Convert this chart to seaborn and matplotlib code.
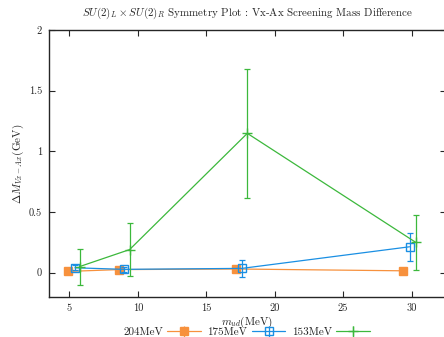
import numpy as np
import pandas as pd
import matplotlib
matplotlib.use("Agg")
import matplotlib.pyplot as plt
import seaborn as sns

# --- data ---
m_204 = [4.9, 8.6, 17.2, 29.4]
d_204 = [0.01, 0.025, 0.03, 0.015]
e_204 = [0.0, 0.0, 0.0, 0.0]

m_175 = [5.4, 9.0, 17.6, 29.85]
d_175 = [0.04, 0.027, 0.035, 0.213]
e_175 = [0.02, 0.02, 0.07, 0.115]

m_153 = [5.75, 9.4, 18.0, 30.3]
d_153 = [0.05, 0.19, 1.148, 0.25]
e_153 = [0.148, 0.22, 0.53, 0.227]

labels = ["204MeV", "175MeV", "153MeV"]
colors = ["#f7913d", "#1a8fe3", "#3cb83c"]

xticks = [5, 10, 15, 20, 25, 30]
yticks = [0, 0.5, 1, 1.5, 2]
ytick_labels = ["0", "0.5", "1", "1.5", "2"]

sns.set_style("ticks")
plt.rcParams["font.family"] = ["cmr10", "DejaVu Serif"]
plt.rcParams["mathtext.fontset"] = "cm"
plt.rcParams["axes.formatter.use_mathtext"] = True

df = pd.concat([
    pd.DataFrame({"m": m_204, "d": d_204, "e": e_204, "set": labels[0]}),
    pd.DataFrame({"m": m_175, "d": d_175, "e": e_175, "set": labels[1]}),
    pd.DataFrame({"m": m_153, "d": d_153, "e": e_153, "set": labels[2]}),
])

fig = plt.figure(figsize=(4.44, 3.37), dpi=100)
ax = fig.add_axes([0.110, 0.119, 0.894, 0.792])

markers = {"204MeV": "s", "175MeV": "s", "153MeV": "+"}
handles = []
for lab, col in zip(labels, colors):
    sub = df[df["set"] == lab]
    mk = markers[lab]
    face = col if lab == "204MeV" else "none"
    ms = 6 if mk == "s" else 7
    sns.lineplot(data=sub, x="m", y="d", ax=ax, color=col, sort=False,
                 linewidth=0.9, marker=mk, markersize=ms,
                 markerfacecolor=face, markeredgecolor=col, markeredgewidth=1.0,
                 legend=False)
    ax.errorbar(sub["m"], sub["d"], yerr=sub["e"], fmt="none", ecolor=col,
                elinewidth=0.9, capsize=2, capthick=0.9)
    handles.append(ax.errorbar([], [], yerr=[], color=col, marker=mk,
                               markersize=ms, markerfacecolor=face,
                               markeredgecolor=col, linewidth=0.9, capsize=2))

ax.set_xlim(3.5, 32.5)
ax.set_ylim(-0.2, 2)
ax.set_xticks(xticks)
ax.set_xticklabels([str(t) for t in xticks])
ax.set_yticks(yticks)
ax.set_yticklabels(ytick_labels)
ax.tick_params(direction="in", length=4, width=0.8, top=True, right=True,
               labelsize=7.5, pad=5)
for s in ax.spines.values():
    s.set_linewidth(1.0)
    s.set_visible(True)

ax.set_xlabel(r"$m_{ud}$(MeV)", fontsize=8, labelpad=1)
ax.set_ylabel(r"$\Delta M_{Vx-Ax}$(GeV)", fontsize=8, labelpad=2)
ax.set_title(r"$SU(2)_L \times SU(2)_R$ Symmetry Plot : Vx-Ax Screening Mass Difference",
             fontsize=7.9, pad=10)

fig.legend(handles, labels, loc="lower center", bbox_to_anchor=(0.555, -0.03),
           ncol=3, frameon=False, markerfirst=False, fontsize=8,
           handlelength=3, columnspacing=0.6, handletextpad=0.4)

fig.savefig("out.png", dpi=100)
